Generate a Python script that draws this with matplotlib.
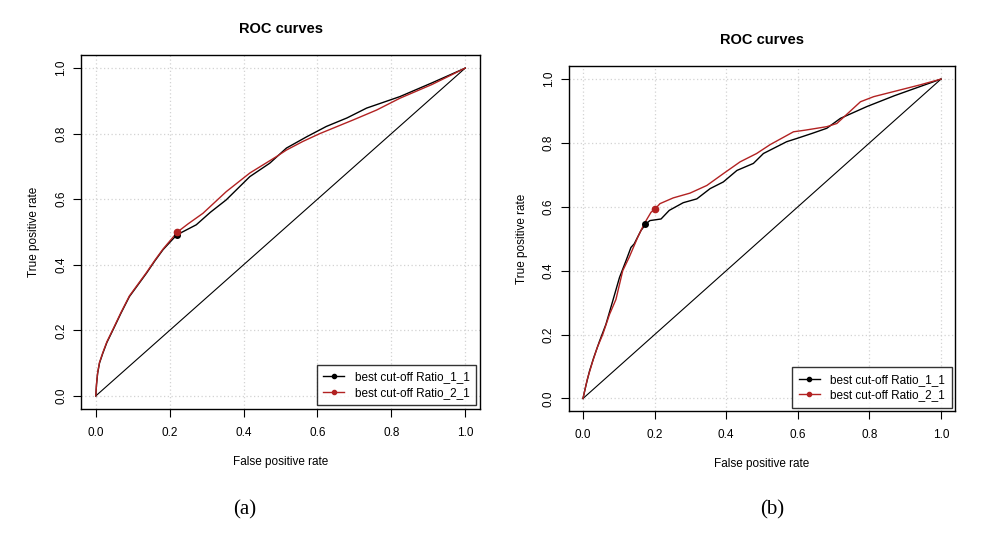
import matplotlib
matplotlib.use("Agg")
import matplotlib.pyplot as plt
from matplotlib.lines import Line2D

plt.rcParams['font.family'] = ['Liberation Sans', 'DejaVu Sans']

# ---- Panel (a) data ----
a_fpr_1 = [0.0, 0.002, 0.005, 0.010, 0.019, 0.030, 0.046, 0.068, 0.091, 0.115, 0.137, 0.160, 0.182, 0.200, 0.219,
           0.272, 0.310, 0.353, 0.417, 0.471, 0.516, 0.570, 0.624, 0.680, 0.733, 0.823, 0.910, 1.0]
a_tpr_1 = [0.0, 0.035, 0.069, 0.100, 0.130, 0.163, 0.200, 0.252, 0.303, 0.340, 0.374, 0.412, 0.446, 0.468, 0.491,
           0.522, 0.560, 0.598, 0.669, 0.710, 0.756, 0.790, 0.822, 0.848, 0.878, 0.913, 0.955, 1.0]
a_fpr_2 = [0.0, 0.002, 0.005, 0.010, 0.019, 0.030, 0.046, 0.068, 0.091, 0.115, 0.137, 0.160, 0.182, 0.200, 0.221,
           0.250, 0.290, 0.353, 0.417, 0.489, 0.516, 0.560, 0.606, 0.697, 0.760, 0.823, 0.910, 1.0]
a_tpr_2 = [0.0, 0.037, 0.071, 0.102, 0.132, 0.165, 0.202, 0.254, 0.305, 0.342, 0.376, 0.414, 0.448, 0.472, 0.500,
           0.525, 0.557, 0.623, 0.680, 0.730, 0.750, 0.776, 0.800, 0.842, 0.872, 0.908, 0.950, 1.0]
a_cut_1 = (0.219, 0.491)
a_cut_2 = (0.221, 0.500)

# ---- Panel (b) data ----
b_fpr_1 = [0.0, 0.008, 0.018, 0.030, 0.046, 0.064, 0.083, 0.102, 0.120, 0.134, 0.143, 0.162, 0.176,
           0.187, 0.218, 0.241, 0.280, 0.318, 0.355, 0.392, 0.430, 0.476, 0.504, 0.569, 0.597, 0.640, 0.681,
           0.719, 0.793, 0.870, 1.0]
b_tpr_1 = [0.0, 0.040, 0.085, 0.128, 0.179, 0.232, 0.305, 0.379, 0.431, 0.473, 0.484, 0.526, 0.547,
           0.557, 0.562, 0.589, 0.613, 0.625, 0.657, 0.678, 0.714, 0.736, 0.767, 0.804, 0.814, 0.830, 0.846,
           0.877, 0.914, 0.948, 1.0]
b_fpr_2 = [0.0, 0.012, 0.027, 0.040, 0.055, 0.074, 0.092, 0.111, 0.129, 0.153, 0.171, 0.190, 0.202,
           0.215, 0.252, 0.299, 0.346, 0.392, 0.439, 0.485, 0.523, 0.588, 0.620, 0.681,
           0.709, 0.775, 0.812, 0.942, 1.0]
b_tpr_2 = [0.0, 0.060, 0.116, 0.160, 0.200, 0.263, 0.310, 0.400, 0.442, 0.505, 0.547, 0.583, 0.594,
           0.610, 0.628, 0.643, 0.667, 0.704, 0.741, 0.767, 0.795, 0.835, 0.840, 0.851,
           0.861, 0.929, 0.945, 0.982, 1.0]
b_cut_1 = (0.173, 0.547)
b_cut_2 = (0.200, 0.592)

ticks = [0.0, 0.2, 0.4, 0.6, 0.8, 1.0]
tick_labels = ["0.0", "0.2", "0.4", "0.6", "0.8", "1.0"]
legend_labels = ["best cut-off Ratio_1_1", "best cut-off Ratio_2_1"]
RED = "#B22222"
FS = 8.5

fig = plt.figure(figsize=(9.94, 5.36), dpi=100)
fig.patch.set_facecolor("white")

panels = [
    dict(rect=[0.0815, 0.2369, 0.4014, 0.6605], f1=a_fpr_1, t1=a_tpr_1, f2=a_fpr_2, t2=a_tpr_2,
         c1=a_cut_1, c2=a_cut_2, tag="(a)", tagx=0.2465),
    dict(rect=[0.5721, 0.2327, 0.3890, 0.6436], f1=b_fpr_1, t1=b_tpr_1, f2=b_fpr_2, t2=b_tpr_2,
         c1=b_cut_1, c2=b_cut_2, tag="(b)", tagx=0.7767),
]

for p in panels:
    ax = fig.add_axes(p["rect"])
    ax.set_xlim(-0.04, 1.04)
    ax.set_ylim(-0.04, 1.04)
    for t in ticks:
        ax.axvline(t, color="#D3D3D3", linestyle=(0, (1, 2)), lw=0.9, zorder=0)
        ax.axhline(t, color="#D3D3D3", linestyle=(0, (1, 2)), lw=0.9, zorder=0)
    ax.plot([0, 1], [0, 1], color="black", lw=0.8, zorder=1)
    ax.plot(p["f1"], p["t1"], color="black", lw=1.0, zorder=2)
    ax.plot(p["f2"], p["t2"], color=RED, lw=1.0, zorder=3)
    ax.plot([p["c1"][0]], [p["c1"][1]], "o", color="black", ms=4, zorder=4)
    ax.plot([p["c2"][0]], [p["c2"][1]], "o", color=RED, ms=4.5, zorder=5)
    ax.set_xticks(ticks)
    ax.set_xticklabels(tick_labels)
    ax.set_yticks(ticks)
    ax.set_yticklabels(tick_labels, rotation=90, va="center")
    ax.tick_params(direction="out", length=6, width=0.8, labelsize=8.5, colors="black")
    ax.tick_params(axis="x", pad=7)
    ax.tick_params(axis="y", pad=4)
    for s in ax.spines.values():
        s.set_linewidth(1.0)
    ax.set_xlabel("False positive rate", fontsize=FS, labelpad=12)
    ax.set_ylabel("True positive rate", fontsize=FS, labelpad=11)
    ax.set_title("ROC curves", fontsize=10.5, fontweight="bold", pad=16)
    handles = [Line2D([0], [0], color="black", lw=1.0, marker="o", ms=3),
               Line2D([0], [0], color=RED, lw=1.0, marker="o", ms=3)]
    leg = ax.legend(handles, legend_labels, loc="lower right", fontsize=FS, frameon=True,
                    fancybox=False, edgecolor="black", borderaxespad=0.3, handlelength=1.8,
                    labelspacing=0.3, borderpad=0.55, handletextpad=0.9)
    leg.get_frame().set_linewidth(1.0)
    fig.text(p["tagx"], 0.048, p["tag"], fontsize=15, family=["Liberation Serif", "DejaVu Serif"],
             ha="center", va="center")

fig.savefig("out.png", dpi=100, facecolor="white")
